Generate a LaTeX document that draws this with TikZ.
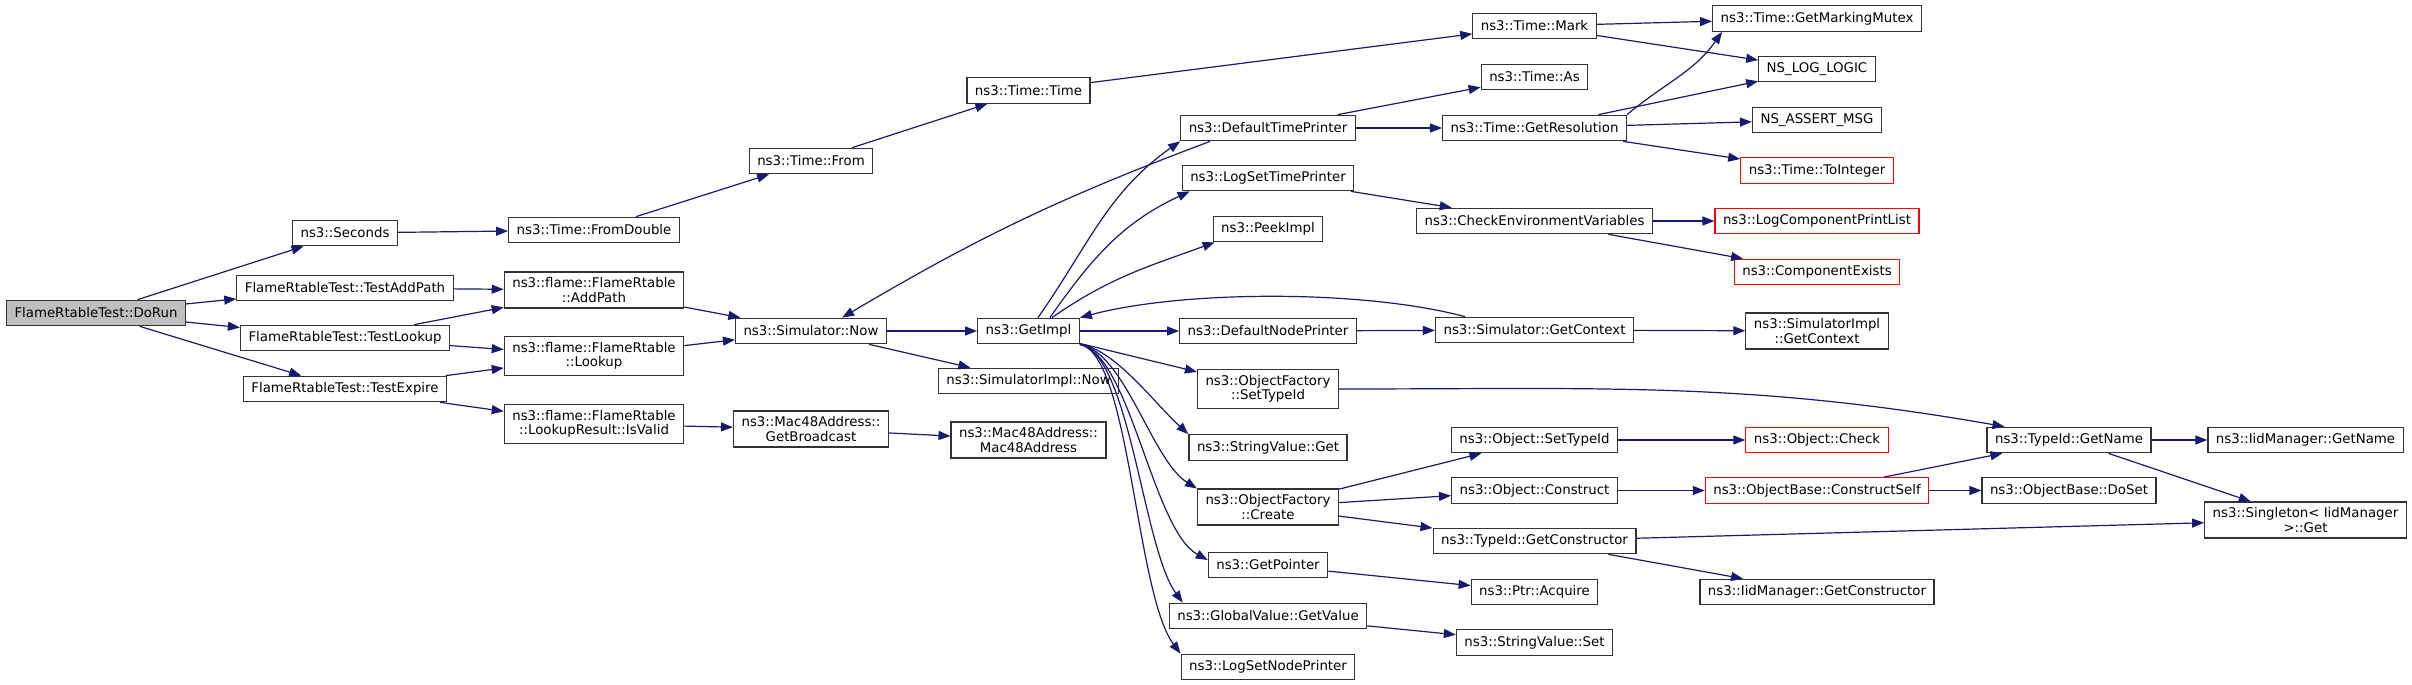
\documentclass[tikz,border=0pt]{standalone}
\usepackage{fontspec}
\setmainfont{DejaVu Sans}
\usepackage{tikz}
\usetikzlibrary{arrows.meta}
\definecolor{callblue}{HTML}{191970}
\definecolor{rootgray}{HTML}{BFBFBF}
\definecolor{missred}{HTML}{FF0000}
\definecolor{boxline}{HTML}{333333}
\tikzset{
  fnode/.style={rectangle, draw=boxline, fill=white, line width=1.2pt,
                inner xsep=8pt, inner ysep=5.5pt, minimum height=25.5pt,
                align=center, font=\fontsize{13.33}{14.5}\selectfont},
  fnoderoot/.style={fnode, fill=rootgray},
  fnodered/.style ={fnode, draw=missred},
  fcall/.style={-{Triangle[length=12pt,width=9pt]}, line width=1.2pt, callblue},
}

\begin{document}
\begin{tikzpicture}[x=1pt, y=1pt]
  \useasboundingbox (0,0) rectangle (2412,-685);
  % column 0..2
  \node[fnoderoot] (dorun)   at (96,-313)   {FlameRtableTest::DoRun};
  \node[fnode] (seconds)     at (345,-233)  {ns3::Seconds};
  \node[fnode] (tadd)        at (345,-288)  {FlameRtableTest::TestAddPath};
  \node[fnode] (tlook)       at (345,-338)  {FlameRtableTest::TestLookup};
  \node[fnode] (texp)        at (345,-389)  {FlameRtableTest::TestExpire};
  \node[fnode] (fromdbl)     at (594,-230)  {ns3::Time::FromDouble};
  \node[fnode] (addpath)     at (594,-290)  {ns3::flame::FlameRtable\\::AddPath};
  \node[fnode] (lookup)      at (594,-356)  {ns3::flame::FlameRtable\\::Lookup};
  \node[fnode] (isvalid)     at (594,-424)  {ns3::flame::FlameRtable\\::LookupResult::IsValid};
  % column 3..4
  \node[fnode] (tfrom)       at (811,-161)  {ns3::Time::From};
  \node[fnode] (simnow)      at (811,-331)  {ns3::Simulator::Now};
  \node[fnode] (getbcast)    at (811,-429)  {ns3::Mac48Address::\\GetBroadcast};
  \node[fnode] (ttime)       at (1028.5,-90.5) {ns3::Time::Time};
  \node[fnode] (getimpl)     at (1028.5,-331)  {ns3::GetImpl};
  \node[fnode] (simimplnow)  at (1028.5,-381)  {ns3::SimulatorImpl::Now};
  \node[fnode] (macaddr)     at (1028.5,-440)  {ns3::Mac48Address::\\Mac48Address};
  % column 5
  \node[fnode] (dtp)         at (1268,-128) {ns3::DefaultTimePrinter};
  \node[fnode] (lstp)        at (1268,-178) {ns3::LogSetTimePrinter};
  \node[fnode] (peek)        at (1268,-229) {ns3::PeekImpl};
  \node[fnode] (dnp)         at (1268,-331) {ns3::DefaultNodePrinter};
  \node[fnode] (ofsettype)   at (1268,-389) {ns3::ObjectFactory\\::SetTypeId};
  \node[fnode] (svget)       at (1268,-447.5) {ns3::StringValue::Get};
  \node[fnode] (ofcreate)    at (1268,-507) {ns3::ObjectFactory\\::Create};
  \node[fnode] (getptr)      at (1268,-565) {ns3::GetPointer};
  \node[fnode] (gvget)       at (1268,-616) {ns3::GlobalValue::GetValue};
  \node[fnode] (lsnp)        at (1268,-667) {ns3::LogSetNodePrinter};
  % column 6
  \node[fnode] (tmark)       at (1534.5,-26)  {ns3::Time::Mark};
  \node[fnode] (tas)         at (1534.5,-77)  {ns3::Time::As};
  \node[fnode] (tgetres)     at (1534.5,-128) {ns3::Time::GetResolution};
  \node[fnode] (checkenv)    at (1534.5,-221) {ns3::CheckEnvironmentVariables};
  \node[fnode] (simctx)      at (1534.5,-330) {ns3::Simulator::GetContext};
  \node[fnode] (osettype)    at (1534.5,-440) {ns3::Object::SetTypeId};
  \node[fnode] (oconstruct)  at (1534.5,-490.5) {ns3::Object::Construct};
  \node[fnode] (tidctor)     at (1534.5,-541) {ns3::TypeId::GetConstructor};
  \node[fnode] (ptracq)      at (1534.5,-592) {ns3::Ptr::Acquire};
  \node[fnode] (svset)       at (1534.5,-642.5) {ns3::StringValue::Set};
  % column 7
  \node[fnode] (getmutex)    at (1817,-18.5) {ns3::Time::GetMarkingMutex};
  \node[fnode] (nslog)       at (1817,-69)   {NS\_LOG\_LOGIC};
  \node[fnode] (nsassert)    at (1817,-120)  {NS\_ASSERT\_MSG};
  \node[fnodered] (toint)    at (1817,-170.5) {ns3::Time::ToInteger};
  \node[fnodered] (lcprint)  at (1817,-221)  {ns3::LogComponentPrintList};
  \node[fnodered] (compexists) at (1817,-272) {ns3::ComponentExists};
  \node[fnode] (simimplctx)  at (1817,-331)  {ns3::SimulatorImpl\\::GetContext};
  \node[fnodered] (ocheck)   at (1817,-440)  {ns3::Object::Check};
  \node[fnodered] (cself)    at (1817,-490.5) {ns3::ObjectBase::ConstructSelf};
  \node[fnode] (iidctor)     at (1817,-592)  {ns3::IidManager::GetConstructor};
  % column 8..9
  \node[fnode] (tidname)     at (2069,-440)  {ns3::TypeId::GetName};
  \node[fnode] (doset)       at (2069,-490.5) {ns3::ObjectBase::DoSet};
  \node[fnode] (iidname)     at (2305.5,-440) {ns3::IidManager::GetName};
  \node[fnode] (singleton)   at (2305.5,-520) {ns3::Singleton< IidManager\\ >::Get};

  \foreach \a/\b in {dorun/seconds, dorun/tadd, dorun/tlook, dorun/texp,
      seconds/fromdbl, fromdbl/tfrom, tfrom/ttime, ttime/tmark,
      tadd/addpath, tlook/addpath, tlook/lookup, texp/lookup, texp/isvalid,
      addpath/simnow, lookup/simnow, isvalid/getbcast, getbcast/macaddr,
      simnow/getimpl, simnow/simimplnow, getimpl/dnp, getimpl/ofsettype,
      dtp/tas, dtp/tgetres, lstp/checkenv, dnp/simctx,
      tmark/getmutex, tmark/nslog, tgetres/nslog, tgetres/nsassert, tgetres/toint,
      checkenv/lcprint, checkenv/compexists, simctx/simimplctx,
      ofcreate/osettype, ofcreate/oconstruct, ofcreate/tidctor,
      osettype/ocheck, oconstruct/cself, cself/tidname, cself/doset,
      tidname/iidname, tidname/singleton, tidctor/singleton, tidctor/iidctor,
      getptr/ptracq, gvget/svset}
    \draw[fcall] (\a) -- (\b);

  \draw[fcall] ([xshift=30pt]dtp.south west) to[bend right=5] ([xshift=-45pt]simnow.north east);
  \draw[fcall] ([xshift=-42pt]getimpl.north east) to[out=55,in=215] (dtp.south west);
  \draw[fcall] ([xshift=-30pt]getimpl.north east) to[out=55,in=205] ([xshift=8pt]lstp.south west);
  \draw[fcall] ([xshift=-28pt]getimpl.north east) to[out=35,in=200] ([xshift=2pt]peek.south west);
  \draw[fcall] ([xshift=30pt]simctx.north west) to[out=165,in=15,looseness=0.7] (getimpl.north east);
  \draw[fcall] (getimpl.south east) .. controls +(35,-5) and +(-35,32) .. (svget.north west);
  \draw[fcall] (getimpl.south east) .. controls +(45,-8) and +(-45,28) .. (ofcreate.north west);
  \draw[fcall] (getimpl.south east) .. controls +(50,-10) and +(-55,30) .. ([yshift=5pt]getptr.west);
  \draw[fcall] (getimpl.south east) .. controls +(50,-10) and +(-40,55) .. ([xshift=14pt]gvget.north west);
  \draw[fcall] (getimpl.south east) .. controls +(50,-10) and +(-45,60) .. (lsnp.north west);
  \draw[fcall] (tgetres.north east) to[out=40,in=235] ([xshift=10pt]getmutex.south west);
  \draw[fcall] (ofsettype.east) to[out=0,in=170] ([xshift=18pt]tidname.north west);
\end{tikzpicture}
\end{document}
